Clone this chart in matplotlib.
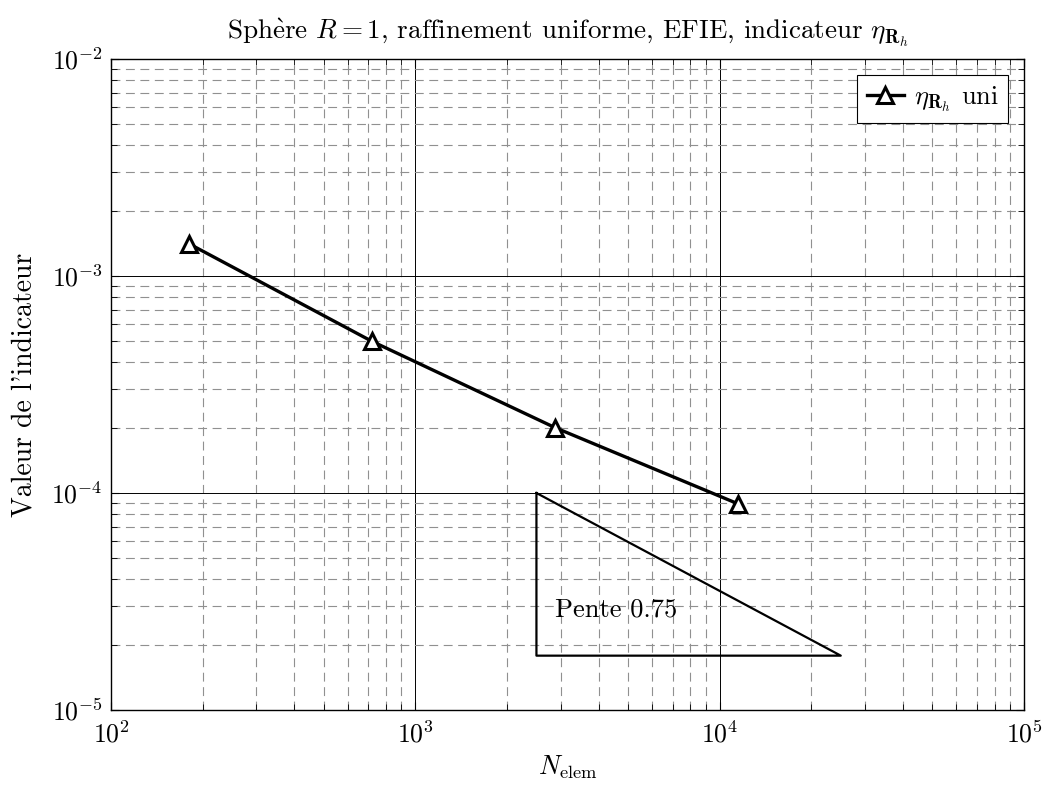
import matplotlib
matplotlib.use('Agg')
import matplotlib.pyplot as plt
from matplotlib.ticker import LogLocator, NullFormatter

plt.rcParams['font.family'] = ['cmr10', 'DejaVu Serif']
plt.rcParams['mathtext.fontset'] = 'cm'
plt.rcParams['axes.formatter.use_mathtext'] = True

# uniform refinement: number of elements vs indicator value
n_elem = [180, 720, 2880, 11520]
eta_uni = [1.41e-3, 5.0e-4, 2.0e-4, 8.9e-5]

# reference slope triangle
tri_x = [2500, 2500, 25000, 2500]
tri_y = [1.0e-4, 1.78e-5, 1.78e-5, 1.0e-4]
slope_label = 'Pente 0.75'
slope_pos = (2880, 2.9e-5)

fig = plt.figure(figsize=(10.46, 7.85), dpi=100)
ax = fig.add_axes([111 / 1046, 1 - 710 / 785, 913 / 1046, 651 / 785])

ax.set_xscale('log')
ax.set_yscale('log')
ax.set_xlim(1e2, 1e5)
ax.set_ylim(1e-5, 1e-2)

ax.xaxis.set_major_locator(LogLocator(base=10, numticks=10))
ax.yaxis.set_major_locator(LogLocator(base=10, numticks=10))
ax.xaxis.set_minor_locator(LogLocator(base=10, subs=range(2, 10), numticks=20))
ax.yaxis.set_minor_locator(LogLocator(base=10, subs=range(2, 10), numticks=20))
ax.xaxis.set_minor_formatter(NullFormatter())
ax.yaxis.set_minor_formatter(NullFormatter())

ax.grid(True, which='major', color='black', linewidth=0.7)
ax.grid(True, which='minor', color='#909090', linewidth=0.8, linestyle=(0, (8, 5)))
ax.set_axisbelow(True)

ax.tick_params(which='both', direction='in', top=True, right=True, labelsize=18.5)
ax.tick_params(which='major', length=6, width=0.8)
ax.tick_params(which='minor', length=4, width=0.6)
ax.tick_params(axis='x', pad=8)
ax.tick_params(axis='y', pad=6)

ax.plot(n_elem, eta_uni, color='black', linewidth=2.4, marker='^',
        markersize=11, markerfacecolor='white', markeredgewidth=2.2,
        label=r'$\eta_{\mathbf{R}_h}$ uni', zorder=3)

ax.plot(tri_x, tri_y, color='black', linewidth=1.6, zorder=3)
ax.text(slope_pos[0], slope_pos[1], slope_label, fontsize=19,
        ha='left', va='center', zorder=4)

ax.set_xlabel(r'$N_{\mathrm{elem}}$', fontsize=19, labelpad=4)
ax.set_ylabel("Valeur de l'indicateur", fontsize=20, labelpad=10)
ax.set_title(r'Sph$\mathrm{\grave{e}}$re $R=1$, raffinement uniforme, EFIE, indicateur $\eta_{\mathbf{R}_h}$',
             fontsize=19.5, pad=14)

leg = ax.legend(loc='upper right', fontsize=19, fancybox=False, framealpha=1,
                edgecolor='black', handlelength=1.4, handletextpad=0.4,
                borderaxespad=0.6, borderpad=0.35)
leg.get_frame().set_linewidth(0.8)

for s in ax.spines.values():
    s.set_linewidth(1.0)

fig.savefig('out.png', dpi=100)
